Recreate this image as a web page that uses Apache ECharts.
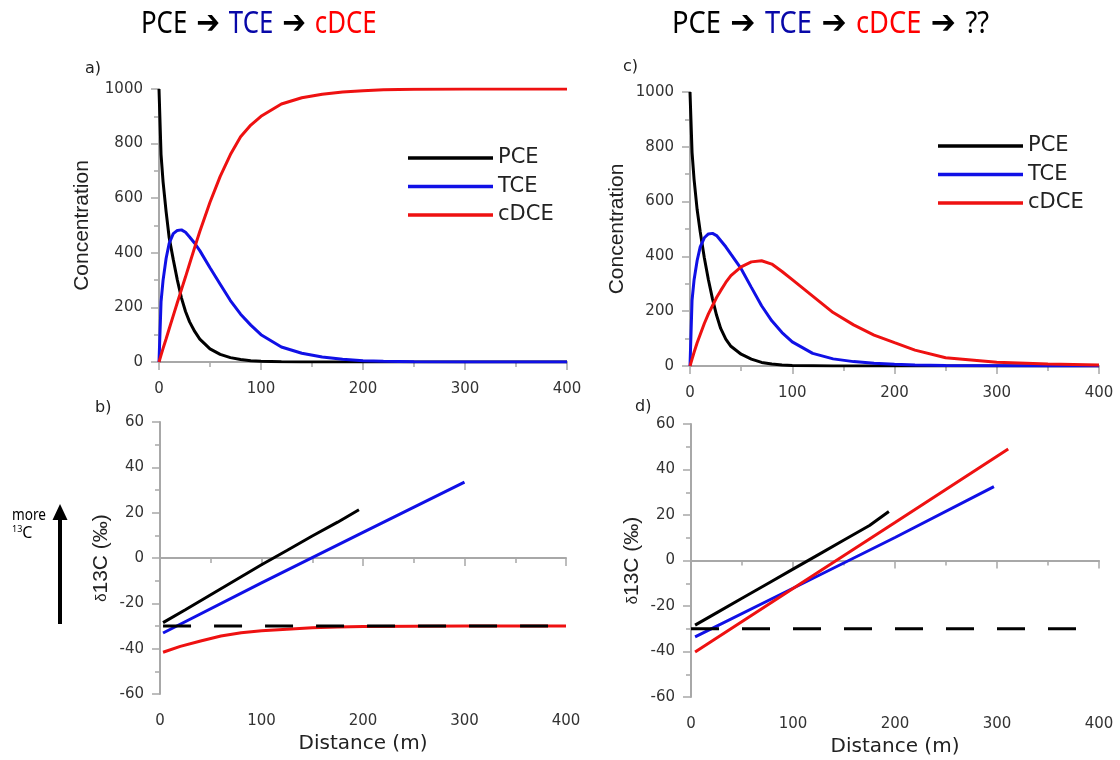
<!DOCTYPE html>
<html>
<head>
<meta charset="utf-8">
<script src="https://cdn.jsdelivr.net/npm/echarts@6/dist/echarts.min.js"></script>
<style>html,body{margin:0;padding:0;background:#fff}#c{width:1120px;height:760px}</style>
</head>
<body>
<div id="c"></div>
<script>
// ---- data ----
const distConc = [0,2,4,7,10,14,18,22,26,30,35,40,50,60,70,80,90,100,120,140,160,180,200,220,250,300,350,400];
const pceA  = [1000,760,660,550,455,375,300,235,185,147,112,84,48,28,16,9,5,3,1,0,0,0,0,0,0,0,0,0];
const tceA  = [0,220,300,380,435,470,482,484,475,458,435,408,345,285,225,175,135,100,55,32,18,10,5,3,1,0,0,0];
const cdceA = [0,25,50,85,122,170,218,265,312,360,420,478,585,680,760,825,868,900,945,968,981,989,994,997,999,1000,1000,1000];
const pceC  = [1000,780,680,570,490,395,315,245,185,137,98,72,43,25,13,7,4,2,1,0,0,0,0,0,0,0,0,0];
const tceC  = [0,240,315,385,435,468,482,484,476,458,435,408,355,287,220,165,122,88,46,26,16,10,6,4,2,1,0,0];
const cdceC = [0,25,50,85,115,155,190,220,250,275,305,330,362,380,384,372,345,315,255,195,150,113,85,58,30,14,7,4];

const distPceIsoB = [3,25,50,75,100,125,150,175,196];
const pceIsoB     = [-28.5,-22.8,-16.2,-9.6,-3,3.3,9.7,15.8,21.3];
const distTceIsoB = [3,100,200,300];
const tceIsoB     = [-33.1,-11,11.3,33.5];
const distCdceIsoB = [3,20,40,60,80,100,125,150,175,200,250,300,350,400];
const cdceIsoB     = [-41.6,-39,-36.6,-34.4,-33,-32.1,-31.4,-30.8,-30.4,-30.2,-30.1,-30,-30,-30];
const distRefB = [3,391];
const refB     = [-30,-30];

const distPceIsoD = [4,25,50,75,100,125,150,175,194];
const pceIsoD     = [-28.4,-23,-16.6,-10.2,-3.8,2.6,9,15.4,21.5];
const distTceIsoD = [4,100,200,297];
const tceIsoD     = [-33.6,-12.2,10.1,32.5];
const distCdceIsoD = [4,100,200,311];
const cdceIsoD     = [-40.2,-12.3,16.7,49];
const distRefD = [0,380];
const refD     = [-30,-30];

const xTicks = {min:0, max:400, interval:100};
const concTicks = {min:0, max:1000, interval:200};
const isoTicks = {min:-60, max:60, interval:20};
const seriesNames = ['PCE','TCE','cDCE'];

// ---- styling ----
const BLACK='#000000', BLUE='#1010e6', RED='#ee1111';
const zip = (xs, ys) => xs.map((x,i)=>[x, ys[i]]);
const axisCommon = {
  axisLine:{show:true, lineStyle:{color:'#a8a8a8', width:2}},
  axisTick:{show:true, length:8, lineStyle:{color:'#a8a8a8', width:1.5}},
  minorTick:{show:true, splitNumber:2, length:5, lineStyle:{color:'#a8a8a8', width:1.5}},
  splitLine:{show:false},
  axisLabel:{color:'#333', fontFamily:'DejaVu Sans', fontSize:15, formatter:(v)=>String(v)}
};
function xAx(grid, named){
  return Object.assign({}, axisCommon, {
    type:'value', gridIndex:grid, min:xTicks.min, max:xTicks.max, interval:xTicks.interval,
    axisLabel:Object.assign({}, axisCommon.axisLabel, {margin:20}),
    name: named ? 'Distance (m)' : '', nameLocation:'middle', nameGap:40,
    nameTextStyle:{fontFamily:'DejaVu Sans', fontSize:20, color:'#222'}
  });
}
function yAx(grid, t, name, gap){
  return Object.assign({}, axisCommon, {
    type:'value', gridIndex:grid, min:t.min, max:t.max, interval:t.interval,
    axisLabel:Object.assign({}, axisCommon.axisLabel, {margin:16}),
    name:name, nameLocation:'middle', nameGap:gap,
    nameTextStyle:{fontFamily:'Liberation Sans', fontSize:21, color:'#222',
      rich:{d:{fontFamily:'Liberation Sans', fontSize:15, color:'#222'}, n:{fontFamily:'Liberation Sans', fontSize:21, color:'#222'}}}
  });
}
function line(name, data, idx, color, dashed){
  return {type:'line', name:name, xAxisIndex:idx, yAxisIndex:idx, data:data,
    symbol:'none', showSymbol:false, smooth:false, z: dashed?5:3,
    itemStyle:{color:color},
    lineStyle:{color:color, width:3, type: dashed ? [28,23] : 'solid'}};
}
function legend(left, top){
  return {left:left, top:top, orient:'vertical', data:seriesNames, icon:'rect',
    itemWidth:85, itemHeight:3.5, itemGap:6.5, selectedMode:false,
    textStyle:{fontFamily:'DejaVu Sans', fontSize:21, lineHeight:22, color:'#222', padding:[0,0,0,0]}};
}
const titleRich = {
  k:{fontFamily:'Noto Sans', fontSize:30, fill:'#000'},
  b:{fontFamily:'Noto Sans', fontSize:30, fill:'#0808a8'},
  r:{fontFamily:'Noto Sans', fontSize:30, fill:'#ff0000'},
  a:{fontFamily:'DejaVu Sans', fontSize:33, fill:'#000', padding:[0,7,0,7]}
};

const option = {
  animation:false,
  backgroundColor:'#fff',
  grid:[
    {left:159, top:89, width:408, height:273},
    {left:160, top:422, width:406, height:272},
    {left:690, top:92, width:409, height:274},
    {left:691, top:424, width:408, height:273}
  ],
  xAxis:[xAx(0,false), xAx(1,true), xAx(2,false), xAx(3,true)],
  yAxis:[
    yAx(0, concTicks, 'Concentration', 66),
    yAx(1, isoTicks, '{d|δ}{n|13C (‰)}', 48),
    yAx(2, concTicks, 'Concentration', 62),
    yAx(3, isoTicks, '{d|δ}{n|13C (‰)}', 48)
  ],
  legend:[legend(403,142), legend(933,130)],
  series:[
    line('PCE', zip(distConc,pceA), 0, BLACK),
    line('TCE', zip(distConc,tceA), 0, BLUE),
    line('cDCE', zip(distConc,cdceA), 0, RED),
    line('PCE δ13C b', zip(distPceIsoB,pceIsoB), 1, BLACK),
    line('TCE δ13C b', zip(distTceIsoB,tceIsoB), 1, BLUE),
    line('cDCE δ13C b', zip(distCdceIsoB,cdceIsoB), 1, RED),
    line('source b', zip(distRefB,refB), 1, BLACK, true),
    line('PCE', zip(distConc,pceC), 2, BLACK),
    line('TCE', zip(distConc,tceC), 2, BLUE),
    line('cDCE', zip(distConc,cdceC), 2, RED),
    line('PCE δ13C d', zip(distPceIsoD,pceIsoD), 3, BLACK),
    line('TCE δ13C d', zip(distTceIsoD,tceIsoD), 3, BLUE),
    line('cDCE δ13C d', zip(distCdceIsoD,cdceIsoD), 3, RED),
    line('source d', zip(distRefD,refD), 3, BLACK, true)
  ],
  graphic:[
    {type:'text', left:141, top:8, scaleX:0.86, style:{
      text:'{k|PCE} {a|➔} {b|TCE} {a|➔} {r|cDCE}', rich:titleRich}},
    {type:'text', left:672, top:8, scaleX:0.91, style:{
      text:'{k|PCE} {a|➔} {b|TCE} {a|➔} {r|cDCE} {a|➔} {k|??}', rich:titleRich}},
    {type:'text', left:85, top:61, style:{text:'a)', fontFamily:'DejaVu Sans', fontSize:16, fill:'#222'}},
    {type:'text', left:95, top:400, style:{text:'b)', fontFamily:'DejaVu Sans', fontSize:16, fill:'#222'}},
    {type:'text', left:623, top:59, style:{text:'c)', fontFamily:'DejaVu Sans', fontSize:16, fill:'#222'}},
    {type:'text', left:635, top:399, style:{text:'d)', fontFamily:'DejaVu Sans', fontSize:16, fill:'#222'}},
    {type:'text', left:12, top:507, scaleX:0.8, style:{text:'more', fontFamily:'Noto Sans', fontSize:17, fill:'#000'}},
    {type:'text', left:12, top:525, style:{text:'{s|13}{n|C}', rich:{s:{fontFamily:'Noto Sans', fontSize:9, fill:'#000', verticalAlign:'top', padding:[0,0,6,0]}, n:{fontFamily:'Noto Sans', fontSize:16, fill:'#000'}}}},
    {type:'rect', shape:{x:58, y:518, width:4, height:106}, style:{fill:'#000'}},
    {type:'polygon', shape:{points:[[52.5,520],[67.5,520],[60,504]]}, style:{fill:'#000'}}
  ]
};
const chart = echarts.init(document.getElementById('c'), null, {renderer:'canvas'});
chart.setOption(option);
</script>
</body>
</html>
